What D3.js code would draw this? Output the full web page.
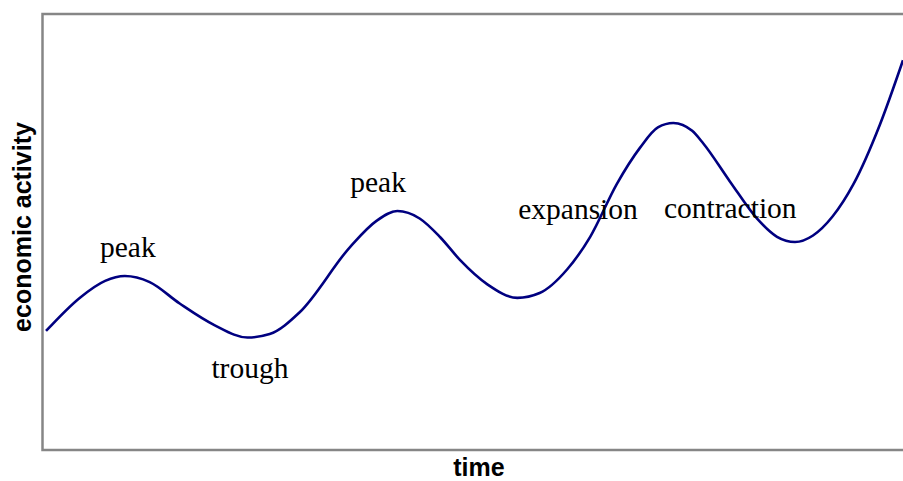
<!DOCTYPE html>
<head>
  <meta charset="utf-8">
  <script src="https://d3js.org/d3.v7.min.js"></script>
  <style>
    body { margin:0; padding:0; background:#fff; }
  </style>
</head>
<body>
  <svg id="chart" width="903" height="481"></svg>
  <script>
    // time (arbitrary units) and economic activity (arbitrary units)
    var time     = [0, 4.0, 6.9, 9.2, 12.1, 15.6, 19.7, 23.5, 26.1, 29.6, 35.5, 38.6, 41.0, 43.6, 46.0, 48.3,
                    51.5, 55.0, 57.6, 60.8, 63.5, 66.6, 69.3, 71.4, 73.2, 75.4, 76.7, 79.8, 83.0, 85.3, 87.4,
                    89.5, 91.8, 94.2, 97.3, 100];
    var activity = [27.3, 35.0, 38.8, 39.9, 38.5, 33.6, 28.6, 25.8, 26.6, 31.6, 46.6, 52.6, 54.8, 53.1, 48.8, 43.6,
                    38.0, 34.9, 36.0, 41.4, 48.9, 61.0, 69.3, 74.0, 75.0, 73.2, 70.3, 61.6, 53.0, 48.9, 47.7,
                    49.2, 53.6, 60.9, 74.6, 89.4];

    var labelText = ["peak", "trough", "peak", "expansion", "contraction"];
    var labelTime = [6.3, 19.3, 35.5, 55.1, 72.1];
    var labelVal  = [44.3, 16.5, 59.2, 53.0, 53.2];

    var svg = d3.select("#chart");
    var x = d3.scaleLinear().domain([0, 100]).range([46, 903]);
    var y = d3.scaleLinear().domain([0, 100]).range([450, 14]);

    // plot frame (right side runs off the picture)
    svg.append("rect")
        .attr("x", 42.5).attr("y", 14).attr("width", 900).attr("height", 436)
        .attr("fill", "none").attr("stroke", "#868686").attr("stroke-width", 2.5);

    var line = d3.line()
        .x(function(d, i) { return x(time[i]); })
        .y(function(d) { return y(d); })
        .curve(d3.curveMonotoneX);

    svg.append("path")
        .attr("d", line(activity))
        .attr("fill", "none")
        .attr("stroke", "#000080")
        .attr("stroke-width", 2.6)
        .attr("stroke-linejoin", "round");

    svg.selectAll(".lbl").data(labelText).enter().append("text")
        .attr("class", "lbl")
        .attr("x", function(d, i) { return x(labelTime[i]); })
        .attr("y", function(d, i) { return y(labelVal[i]); })
        .attr("font-family", "'Liberation Serif', 'Times New Roman', serif")
        .attr("font-size", 29.5)
        .attr("fill", "#000")
        .text(function(d) { return d; });

    svg.append("text")
        .attr("x", 479).attr("y", 476)
        .attr("text-anchor", "middle")
        .attr("font-family", "'Liberation Sans', Arial, sans-serif")
        .attr("font-weight", "bold").attr("font-size", 25)
        .text("time");

    svg.append("text")
        .attr("transform", "translate(31,227) rotate(-90)")
        .attr("text-anchor", "middle")
        .attr("font-family", "'Liberation Sans', Arial, sans-serif")
        .attr("font-weight", "bold").attr("font-size", 25)
        .text("economic activity");
  </script>
</body>
